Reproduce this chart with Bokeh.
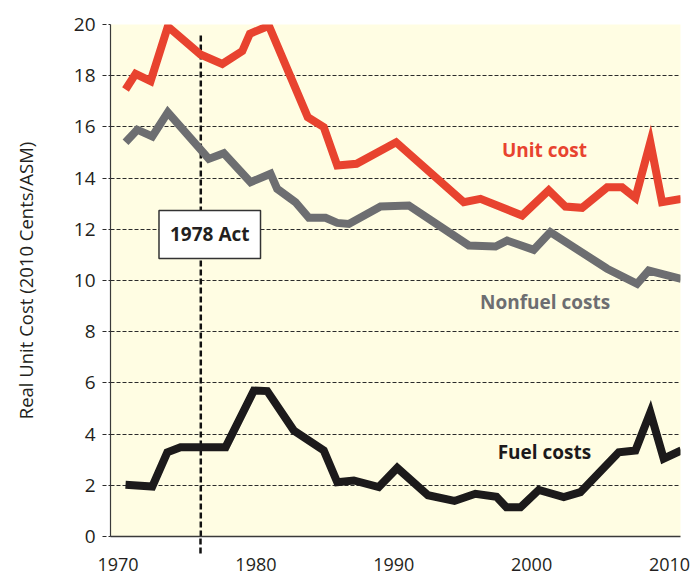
from bokeh.plotting import figure
from bokeh.models import FixedTicker, Range1d, Label, ColumnDataSource
from bokeh.core.properties import value
from bokeh.embed import file_html
from bokeh.resources import INLINE

# ---- data ----
unit_years = [1970.54, 1971.27, 1972.36, 1973.61, 1975.98, 1977.56, 1979.01, 1979.56,
              1980.94, 1983.76, 1984.92, 1985.90, 1987.30, 1990.17, 1995.08, 1996.29,
              1999.31, 2001.24, 2002.45, 2003.66, 2005.48, 2006.56, 2007.53, 2008.61,
              2009.46, 2010.85]
unit_cost = [17.46, 18.07, 17.79, 19.92, 18.83, 18.46, 18.96, 19.64,
             19.95, 16.38, 15.99, 14.49, 14.56, 15.40, 13.06, 13.19,
             12.54, 13.52, 12.89, 12.84, 13.64, 13.64, 13.23, 15.4,
             13.06, 13.19]

nonfuel_years = [1970.54, 1971.39, 1972.48, 1973.61, 1976.58, 1977.67, 1979.61, 1981.06,
                 1981.54, 1982.87, 1983.84, 1985.05, 1985.90, 1986.74, 1989.04, 1991.09,
                 1995.44, 1997.38, 1998.22, 2000.15, 2001.36, 2005.48, 2007.65, 2008.49,
                 2010.85]
nonfuel_cost = [15.40, 15.89, 15.63, 16.57, 14.75, 14.97, 13.84, 14.17,
                13.58, 13.06, 12.45, 12.45, 12.25, 12.21, 12.89, 12.93,
                11.37, 11.33, 11.56, 11.20, 11.89, 10.46, 9.87, 10.39,
                10.06]

fuel_years = [1970.54, 1972.48, 1973.57, 1974.53, 1977.80, 1979.85, 1980.82, 1982.75,
              1984.92, 1985.90, 1987.10, 1988.91, 1990.25, 1992.48, 1994.40, 1995.92,
              1997.45, 1998.17, 1999.19, 2000.52, 2002.33, 2003.54, 2006.32, 2007.53,
              2008.61, 2009.58, 2010.85]
fuel_cost = [2.02, 1.95, 3.29, 3.49, 3.49, 5.70, 5.68, 4.14,
             3.36, 2.12, 2.19, 1.93, 2.68, 1.61, 1.39, 1.67,
             1.55, 1.14, 1.14, 1.82, 1.54, 1.73, 3.29, 3.36,
             4.85, 3.04, 3.36]

x_ticks = [1970, 1980, 1990, 2000, 2010]
y_ticks = [0, 2, 4, 6, 8, 10, 12, 14, 16, 18, 20]

act_year = 1976
act_text = "1978 Act"
act_label_pos = (1976.65, 11.8)

y_title = "Real Unit Cost (2010 Cents/ASM)"

series_labels = ["Unit cost", "Nonfuel costs", "Fuel costs"]
series_label_x = [2000.93, 2000.98, 2000.93]
series_label_y = [15.08, 9.16, 3.30]

RED = "#E8432F"
GRAY = "#6D6E71"
BLACK = "#1C1A1B"
series_colors = [RED, GRAY, BLACK]

FONT = "Open Sans"

p = figure(width=693, height=575,
           x_range=Range1d(1969.45, 2010.8), y_range=Range1d(0, 20),
           output_backend="svg", toolbar_location=None,
           min_border_left=110, min_border_right=13,
           min_border_top=24, min_border_bottom=39)

p.background_fill_color = "#FFFDE3"
p.border_fill_color = "white"
p.outline_line_color = None

# grid
p.xgrid.visible = False
p.ygrid.ticker = FixedTicker(ticks=y_ticks)
p.ygrid.grid_line_color = "#2b2b2b"
p.ygrid.grid_line_dash = "4 2"
p.ygrid.grid_line_width = 1

# y axis
p.yaxis.ticker = FixedTicker(ticks=y_ticks)
p.yaxis.axis_label = y_title
p.yaxis.axis_label_text_font = FONT
p.yaxis.axis_label_text_font_size = "18.5px"
p.yaxis.axis_label_text_font_style = "normal"
p.yaxis.axis_label_text_color = "#231F20"
p.yaxis.axis_label_standoff = 33
p.yaxis.major_label_text_font = FONT
p.yaxis.major_label_text_font_size = "19px"
p.yaxis.major_label_text_color = "#231F20"
p.yaxis.major_label_standoff = 7
p.yaxis.major_tick_out = 8
p.yaxis.major_tick_in = 0
p.yaxis.major_tick_line_dash = "4 2"
p.yaxis.major_tick_line_color = "#2b2b2b"
p.yaxis.minor_tick_line_color = None
p.yaxis.axis_line_color = "#3a3a3a"
p.yaxis.axis_line_width = 1.2

# x axis
p.xaxis.ticker = FixedTicker(ticks=x_ticks, minor_ticks=[act_year])
p.xaxis.major_label_text_font = FONT
p.xaxis.major_label_text_font_size = "18px"
p.xaxis.major_label_text_color = "#231F20"
p.xaxis.major_label_standoff = 4
p.xaxis.major_tick_line_color = None
p.xaxis.major_tick_out = 0
p.xaxis.major_tick_in = 0
p.xaxis.minor_tick_out = 17
p.xaxis.minor_tick_in = 0
p.xaxis.minor_tick_line_color = "#111111"
p.xaxis.minor_tick_line_width = 2.5
p.xaxis.minor_tick_line_dash = "6 3"
p.xaxis.axis_line_color = "#3a3a3a"
p.xaxis.axis_line_width = 1.5

# 1978 Act vertical line
p.segment(x0=[act_year], y0=[0], x1=[act_year], y1=[19.6],
          line_color="#111111", line_width=2.5, line_dash="6 3")

# series
for xs, ys, c in [(unit_years, unit_cost, RED),
                  (nonfuel_years, nonfuel_cost, GRAY),
                  (fuel_years, fuel_cost, BLACK)]:
    p.line(xs, ys, line_color=c, line_width=8, line_join="miter", line_cap="butt")

# series labels
src = ColumnDataSource(dict(x=series_label_x, y=series_label_y,
                            text=series_labels, color=series_colors))
p.text(x="x", y="y", text="text", text_color="color", source=src,
       text_font=value(FONT), text_font_style="bold", text_font_size="19px",
       text_align="center", text_baseline="middle")

# act label box
p.add_layout(Label(x=act_label_pos[0], y=act_label_pos[1], text=act_text,
                   text_align="center", text_baseline="middle",
                   text_font=FONT, text_font_style="bold", text_font_size="19px",
                   text_color="#231F20",
                   background_fill_color="white",
                   border_line_color="#333333", border_line_width=1.5,
                   padding=11))

open("out.html", "w").write(file_html(p, INLINE))
